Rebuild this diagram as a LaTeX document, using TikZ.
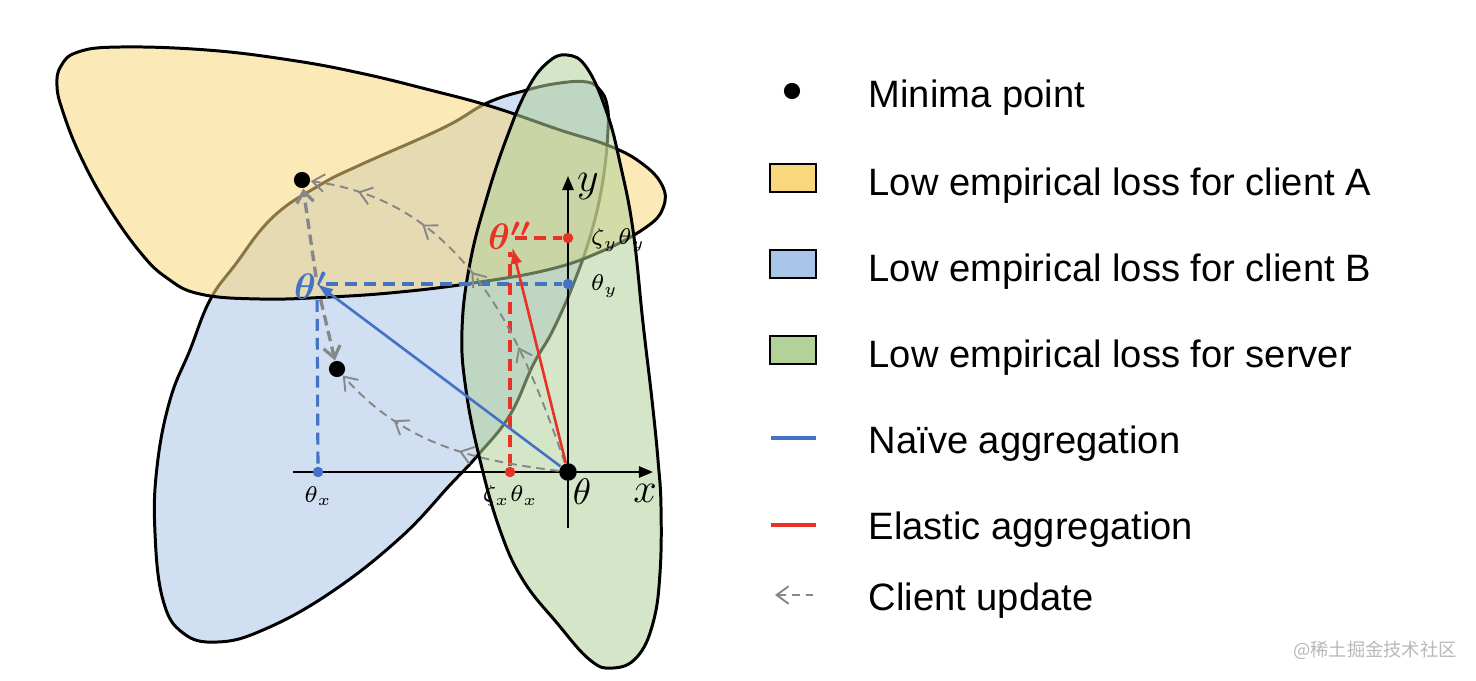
\RequirePackage{fix-cm}
\documentclass[tikz,border=0pt]{standalone}
\usepackage{amsmath}
\usepackage{fontspec}
\newfontfamily\legfont{Liberation Sans}
\newfontfamily\cjkfont{Noto Sans CJK SC}
\usetikzlibrary{arrows.meta, decorations.markings}

\definecolor{fillA}{RGB}{248,215,125}
\definecolor{fillB}{RGB}{169,197,232}
\definecolor{fillS}{RGB}{179,210,154}
\definecolor{naive}{RGB}{68,114,196}
\definecolor{elastic}{RGB}{232,50,40}
\definecolor{updgray}{RGB}{135,135,135}

\tikzset{chev/.tip={Straight Barb[length=3.4pt, width=5pt, line width=0.55pt]}}

\begin{document}
\begin{tikzpicture}[x=0.1mm, y=-0.1mm,
		region/.style={draw=black, line width=0.85pt, fill opacity=0.55},
		minpt/.style={circle, fill=black, inner sep=0pt, minimum size=4.6pt},
		tinypt/.style={circle, inner sep=0pt, minimum size=3pt},
		axis/.style={line width=0.6pt, -{Triangle[length=4pt, width=3.2pt]}},
		proj/.style={line width=0.9pt, dash pattern=on 3.4pt off 2pt},
		update/.style={color=updgray, line width=0.55pt, dash pattern=on 2.4pt off 1.6pt},
		jump/.style={color=updgray, line width=0.95pt, dash pattern=on 3pt off 1.6pt, -{Straight Barb[length=3.2pt, width=4.8pt, line width=0.9pt]}},
		aggr/.style={line width=0.75pt, -{Latex[length=4.6pt, width=3.4pt]}},
		legbox/.style={rectangle, draw=black, line width=0.8pt, minimum width=13.1pt, minimum height=8pt, inner sep=0pt},
		legline/.style={rectangle, inner sep=0pt, minimum width=12.8pt, minimum height=1.4pt},
		legtext/.style={anchor=base west, inner sep=0pt, font=\legfont\fontsize{10.85}{13}\selectfont},
		smalllab/.style={inner sep=0pt, font=\fontsize{6.5}{7.5}\selectfont},
		biglab/.style={inner sep=0pt, font=\fontsize{12}{14}\selectfont},
		thlab/.style={inner sep=0pt, font=\fontsize{10.5}{12}\selectfont}
	]

	\useasboundingbox (0,0) rectangle (1476,680);

	\draw[region, fill=fillB] plot[smooth cycle, tension=0.7] coordinates {(560,83) (587,82) (600,90) (607,105) (608,130) (603,180) (592,230) (575,280) (553,330) (533,365) (510,415) (478,455) (450,485) (400,538) (330,593) (263,630) (217,642) (183,633) (163,600) (155,533) (157,467) (170,400) (190,350) (210,300) (235,265) (273,217) (320,185) (360,165) (443,128) (487,103) (527,90)};
	\draw[region, fill=fillA] plot[smooth cycle, tension=0.7] coordinates {(120,47) (207,50) (290,60) (360,73) (430,90) (493,107) (560,130) (607,145) (640,162) (662,185) (663,208) (645,228) (600,252) (547,270) (473,283) (400,292) (330,297) (260,299) (200,294) (167,278) (140,252) (107,205) (80,155) (63,112) (57,86) (61,66) (78,52)};
	\draw[region, fill=fillS] plot[smooth cycle, tension=0.7] coordinates {(567,55) (587,68) (607,113) (620,163) (633,230) (643,323) (652,400) (658,460) (661,507) (660,573) (653,623) (637,657) (613,668) (590,660) (557,623) (523,580) (500,530) (480,460) (466,390) (462,330) (470,263) (487,197) (507,137) (527,90) (547,63)};

	\coordinate (xL) at (293,472);
	\coordinate (xR) at (653,472);
	\coordinate (yB) at (568,528);
	\coordinate (yT) at (568,176);
	\draw[axis] (xL) -- (xR);
	\draw[axis] (yB) -- (yT);

	\node[minpt, minimum size=5pt] (thO) at (568,472) {};
	\node[minpt] (minA) at (302,180) {};
	\node[minpt] (minB) at (337,369) {};
	\node[tinypt, fill=naive] (thX) at (318,472) {};
	\node[tinypt, fill=naive] (thY) at (568,284) {};
	\node[tinypt, fill=elastic] (zX) at (510,472) {};
	\node[tinypt, fill=elastic] (zY) at (568,238) {};
	\coordinate (thP) at (317,284);
	\coordinate (thPP) at (510,238);

	\draw[proj, naive, shorten <=2.5pt] (thP) -- (thY);
	\draw[proj, naive, shorten <=4.5pt] (thP) -- (thX);
	\draw[proj, elastic, shorten >=4pt] (zX) -- (thPP);
	\draw[proj, elastic, shorten <=1.5pt] (thPP) -- (zY);

	\draw[update, -chev, postaction={decorate}, decoration={markings,
		mark=at position 0.42 with {\arrow{chev}},
		mark=at position 0.72 with {\arrow{chev}}}]
		(thO) .. controls (470,460) and (403,443) .. (minB);
	\draw[update, -chev, postaction={decorate}, decoration={markings,
		mark=at position 0.31 with {\arrow{chev}},
		mark=at position 0.53 with {\arrow{chev}},
		mark=at position 0.70 with {\arrow{chev}},
		mark=at position 0.88 with {\arrow{chev}}}]
		(thO) .. controls (518,327) and (461,201) .. (minA);

	\draw[jump, shorten <=2pt] (thP) -- (minA);
	\draw[jump, shorten <=4.5pt] (thP) -- (minB);

	\draw[aggr, naive] (thO) -- (thP);
	\draw[aggr, elastic, shorten >=2.8pt] (thO) -- (thPP);

	\node[biglab] (labX) at (645,493) {$x$};
	\node[biglab] (labY) at (588,187) {$y$};
	\node[thlab] (labO) at (582,492) {$\theta$};
	\node[thlab, text=naive] (labP) at (311,286) {$\boldsymbol{\theta'}$};
	\node[thlab, text=elastic] (labPP) at (510,236) {$\boldsymbol{\theta''}$};
	\node[smalllab] (labTX) at (318,496) {$\theta_x$};
	\node[smalllab] (labZX) at (510,496) {$\zeta_x\theta_x$};
	\node[smalllab, anchor=west] (labTY) at (590,286) {$\theta_y$};
	\node[smalllab, anchor=west] (labZY) at (590,240) {$\zeta_y\theta_y$};

	\node[minpt] (legDot) at (792,91) {};
	\node[legbox, fill=fillA] (legA) at (793,178) {};
	\node[legbox, fill=fillB] (legB) at (793,264) {};
	\node[legbox, fill=fillS] (legS) at (793,350) {};
	\node[legline, fill=naive] (legN) at (793,438) {};
	\node[legline, fill=elastic] (legE) at (793,525) {};
	\coordinate (legUa) at (775,595);
	\coordinate (legUb) at (813,595);
	\draw[update, chev-] (legUa) -- (legUb);

	\node[legtext] (txtDot) at (868,107) {Minima point};
	\node[legtext] (txtA) at (868,195) {Low empirical loss for client A};
	\node[legtext] (txtB) at (868,281) {Low empirical loss for client B};
	\node[legtext] (txtS) at (868,367) {Low empirical loss for server};
	\node[legtext] (txtN) at (868,453) {Naïve aggregation};
	\node[legtext] (txtE) at (868,539) {Elastic aggregation};
	\node[legtext] (txtU) at (868,610) {Client update};

	\node[inner sep=0pt, text=black!28, font=\cjkfont\fontsize{5.2}{6}\selectfont] (mark) at (1375,650) {@稀土掘金技术社区};

\end{tikzpicture}
\end{document}
